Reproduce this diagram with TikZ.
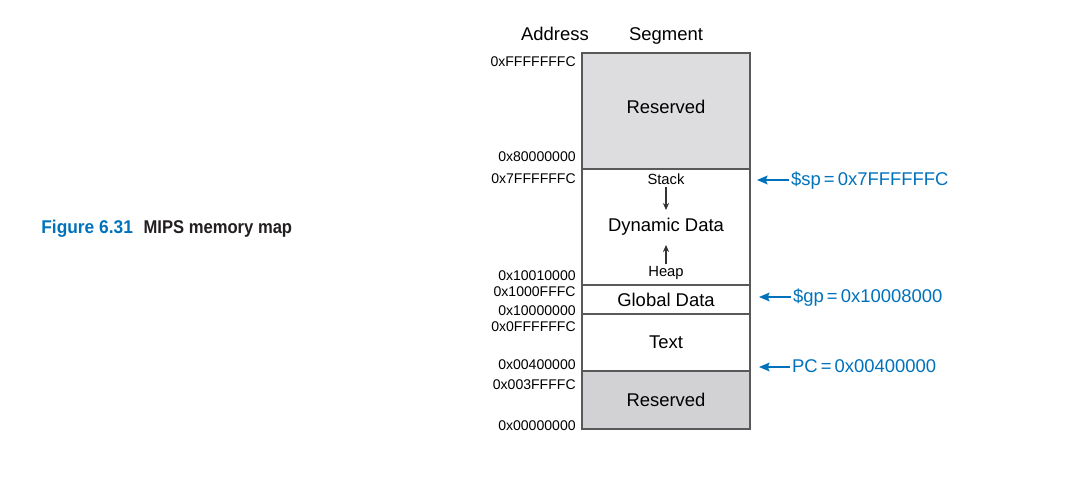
\documentclass[tikz,border=0pt]{standalone}
\usepackage{graphicx}
\usepackage{fontspec}
\setmainfont{Liberation Sans}
\usetikzlibrary{positioning,arrows.meta}
\definecolor{mapblue}{RGB}{0,114,188}
\definecolor{resgray}{RGB}{221,221,223}
\definecolor{resgraydk}{RGB}{210,210,212}
\definecolor{capblack}{RGB}{35,31,32}
\begin{document}
\begin{tikzpicture}[x=0.02cm, y=-0.02cm,
  seg/.style={rectangle, draw=black!65, line width=0.6pt, minimum width=3.36cm,
              inner sep=0pt, font=\fontsize{10.5}{12}\selectfont},
  addr/.style={anchor=base east, inner sep=0pt, font=\fontsize{8}{9}\selectfont},
  head/.style={anchor=base, font=\fontsize{10.5}{12}\selectfont},
  small/.style={inner sep=1pt, font=\fontsize{8.4}{10}\selectfont},
  ptr/.style={anchor=base west, inner sep=1pt, text=mapblue, font=\fontsize{10.5}{12}\selectfont},
  arr/.style={->, >={Stealth[length=4pt,width=3.5pt]}, black!80, line width=0.6pt},
  parr/.style={->, >={Stealth[length=6pt,width=5pt,inset=1pt]}, mapblue, line width=0.8pt},
]
\useasboundingbox (0,0) rectangle (1092,492);
% caption
\node[anchor=west, inner sep=0pt, font=\fontsize{10.5}{12}\selectfont\bfseries] (fignum) at (41,229)
  {\scalebox{0.94}[1]{\textcolor{mapblue}{Figure 6.31}}};
\node[right=0.2cm of fignum, inner sep=0pt, font=\fontsize{10.5}{12}\selectfont\bfseries, text=capblack] (figtitle)
  {\scalebox{0.9}[1]{MIPS memory map}};
% segments
\node[seg, fill=resgray, minimum height=2.32cm]   (rsvhi) at (666,111) {};
\node[seg, minimum height=2.32cm]                 (dyn)   at (666,227) {};
\node[seg, minimum height=0.58cm]                 (glob)  at (666,299.5) {Global Data};
\node[seg, minimum height=1.14cm]                 (text)  at (666,342.5) {Text};
\node[seg, fill=resgraydk, minimum height=1.16cm] (rsvlo) at (666,400) {Reserved};
\node[head] (rsvhilbl) at (666,114) {Reserved};
\node[head] (ddlbl)    at (666,232) {Dynamic Data};
\node[small] (stack) at (666,179) {Stack};
\node[small] (heap)  at (666,273) {Heap};
\coordinate (stackend) at (666,210);
\coordinate (heapend)  at (666,245);
\draw[arr] (stack) -- (stackend); \draw[arr] (heap) -- (heapend);
% headings
\node[head] (addrhd) at (555,41) {Address};
\node[head] (seghd)  at (666,41) {Segment};
% addresses
\node[addr] (a1)  at (576,67)  {0xFFFFFFFC};
\node[addr] (a2)  at (576,162) {0x80000000};
\node[addr] (a3)  at (576,184) {0x7FFFFFFC};
\node[addr] (a4)  at (576,281) {0x10010000};
\node[addr] (a5)  at (576,297) {0x1000FFFC};
\node[addr] (a6)  at (576,316) {0x10000000};
\node[addr] (a7)  at (576,332) {0x0FFFFFFC};
\node[addr] (a8)  at (576,370) {0x00400000};
\node[addr] (a9)  at (576,390) {0x003FFFFC};
\node[addr] (a10) at (576,431) {0x00000000};
% pointers
\coordinate (sptip) at (757,180);
\coordinate (gptip) at (759,297);
\coordinate (pctip) at (759,367);
\node[ptr] (sp) at (789,186) {\$sp\,=\,0x7FFFFFFC};
\node[ptr] (gp) at (791,303) {\$gp\,=\,0x10008000};
\node[ptr] (pc) at (790,373) {PC\,=\,0x00400000};
\draw[parr] (sp.west |- sptip) -- (sptip); \draw[parr] (gp.west |- gptip) -- (gptip); \draw[parr] (pc.west |- pctip) -- (pctip);
\end{tikzpicture}
\end{document}
